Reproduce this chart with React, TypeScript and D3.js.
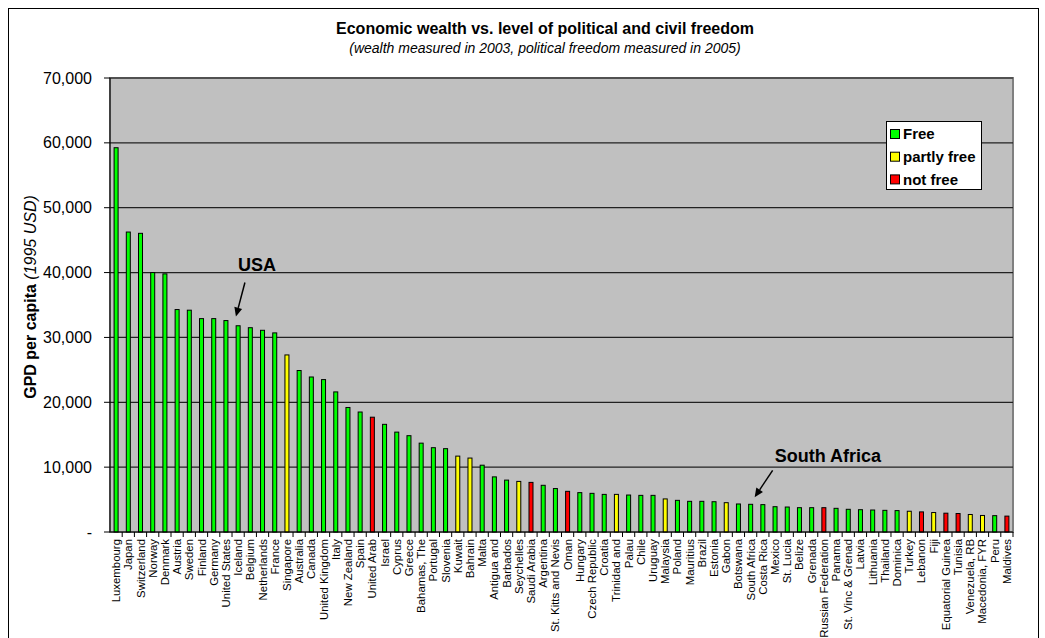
import React from 'react';
import * as d3 from 'd3';

const categories = [
  'Luxembourg', 'Japan', 'Switzerland', 'Norway', 'Denmark', 'Austria', 'Sweden', 'Finland', 'Germany', 'United States',
  'Iceland', 'Belgium', 'Netherlands', 'France', 'Singapore', 'Australia', 'Canada', 'United Kingdom', 'Italy', 'New Zealand',
  'Spain', 'United Arab', 'Israel', 'Cyprus', 'Greece', 'Bahamas, The', 'Portugal', 'Slovenia', 'Kuwait', 'Bahrain',
  'Malta', 'Antigua and', 'Barbados', 'Seychelles', 'Saudi Arabia', 'Argentina', 'St. Kitts and Nevis', 'Oman', 'Hungary', 'Czech Republic',
  'Croatia', 'Trinidad and', 'Palau', 'Chile', 'Uruguay', 'Malaysia', 'Poland', 'Mauritius', 'Brazil', 'Estonia',
  'Gabon', 'Botswana', 'South Africa', 'Costa Rica', 'Mexico', 'St. Lucia', 'Belize', 'Grenada', 'Russian Federation', 'Panama',
  'St. Vinc & Grenad', 'Latvia', 'Lithuania', 'Thailand', 'Dominica', 'Turkey', 'Lebanon', 'Fiji', 'Equatorial Guinea', 'Tunisia',
  'Venezuela, RB', 'Macedonia, FYR', 'Peru', 'Maldives',
];

const gdpPerCapita = [
  59250, 46250, 46050, 40000, 39800, 34300, 34200, 32900, 32900, 32600,
  31800, 31500, 31100, 30700, 27300, 24900, 23900, 23500, 21600, 19200,
  18500, 17700, 16600, 15400, 14850, 13700, 13000, 12850, 11700, 11400,
  10300, 8500, 8000, 7800, 7650, 7200, 6700, 6270, 6070, 5960,
  5800, 5800, 5700, 5650, 5650, 5100, 4880, 4730, 4730, 4670,
  4520, 4320, 4270, 4220, 3900, 3850, 3750, 3750, 3750, 3650,
  3500, 3440, 3390, 3340, 3300, 3200, 3100, 3000, 2900, 2850,
  2700, 2550, 2520, 2450,
];

// F = Free, P = partly free, N = not free
const freedomStatus = [
  'F', 'F', 'F', 'F', 'F', 'F', 'F', 'F', 'F', 'F',
  'F', 'F', 'F', 'F', 'P', 'F', 'F', 'F', 'F', 'F',
  'F', 'N', 'F', 'F', 'F', 'F', 'F', 'F', 'P', 'P',
  'F', 'F', 'F', 'P', 'N', 'F', 'F', 'N', 'F', 'F',
  'F', 'P', 'F', 'F', 'F', 'P', 'F', 'F', 'F', 'F',
  'P', 'F', 'F', 'F', 'F', 'F', 'F', 'F', 'N', 'F',
  'F', 'F', 'F', 'F', 'F', 'P', 'N', 'P', 'N', 'N',
  'P', 'P', 'F', 'N',
];

const yTicks = [0, 10000, 20000, 30000, 40000, 50000, 60000, 70000];

const legendKeys = ['F', 'P', 'N'];
const legendLabels = ['Free', 'partly free', 'not free'];
const statusColors: Record<string, string> = { F: '#00FF00', P: '#FFFF00', N: '#FF0000' };

const FONT = '"Liberation Sans", Arial, Helvetica, sans-serif';

function Arrow({ x1, y1, x2, y2 }: { x1: number; y1: number; x2: number; y2: number }) {
  const ang = Math.atan2(y2 - y1, x2 - x1);
  const len = 9;
  const w = 4;
  const bx = x2 - len * Math.cos(ang);
  const by = y2 - len * Math.sin(ang);
  const px = -Math.sin(ang) * w;
  const py = Math.cos(ang) * w;
  return (
    <g>
      <line x1={x1} y1={y1} x2={bx} y2={by} stroke="#000" strokeWidth={1.5} />
      <path d={`M${x2},${y2}L${bx + px},${by + py}L${bx - px},${by - py}Z`} fill="#000" />
    </g>
  );
}

export default function App() {
  const W = 1045;
  const H = 638;
  const left = 110;
  const right = 1013;
  const top = 78;
  const bottom = 532;

  const x = d3.scaleBand<string>().domain(categories).range([left, right]).paddingInner(0).paddingOuter(0);
  const y = d3.scaleLinear().domain([0, 70000]).range([bottom, top]);
  const fmt = (v: number) => (v === 0 ? '-' : d3.format(',')(v));
  const barW = 4;
  const bw = x.bandwidth();

  const usaIdx = categories.indexOf('United States');
  const saIdx = categories.indexOf('South Africa');
  const usaX = (x(categories[usaIdx]) as number) + bw / 2;
  const usaY = y(gdpPerCapita[usaIdx]);
  const saX = (x(categories[saIdx]) as number) + bw / 2;
  const saY = y(gdpPerCapita[saIdx]);

  return (
    <svg width={W} height={H} style={{ position: 'absolute', left: 0, top: 0, fontFamily: FONT }}>
      <rect x={0} y={0} width={W} height={H} fill="#fff" />
      <rect x={8.5} y={8.5} width={1030} height={700} fill="#fff" stroke="#000" strokeWidth={1} />

      {/* titles */}
      <text x={545} y={34} textAnchor="middle" fontSize={16} fontWeight="bold">
        Economic wealth vs. level of political and civil freedom
      </text>
      <text x={545} y={53} textAnchor="middle" fontSize={14} fontStyle="italic">
        (wealth measured in 2003, political freedom measured in 2005)
      </text>

      {/* plot area */}
      <rect x={left} y={top} width={right - left} height={bottom - top} fill="#C0C0C0" stroke="#808080" strokeWidth={2} />
      {yTicks.filter((t) => t > 0).map((t) => (
        <line key={t} x1={left} x2={right} y1={y(t)} y2={y(t)} stroke="#222" strokeWidth={1.2} />
      ))}

      {/* bars */}
      {categories.map((c, i) => {
        const cx = (x(c) as number) + bw / 2;
        return (
          <rect
            key={c}
            x={cx - barW / 2}
            y={y(gdpPerCapita[i])}
            width={barW}
            height={bottom - y(gdpPerCapita[i])}
            fill={statusColors[freedomStatus[i]]}
            stroke="#000"
            strokeWidth={1}
          />
        );
      })}

      {/* y axis */}
      <line x1={left} x2={left} y1={top} y2={bottom} stroke="#000" strokeWidth={1} />
      {yTicks.map((t) => (
        <g key={t}>
          <line x1={left - 6} x2={left} y1={y(t)} y2={y(t)} stroke="#000" />
          <text x={92} y={y(t)} dy="0.35em" textAnchor="end" fontSize={16}>
            {fmt(t)}
          </text>
        </g>
      ))}
      <text transform={`translate(36,297) rotate(-90)`} textAnchor="middle" fontSize={16}>
        <tspan fontWeight="bold">GPD per capita</tspan>
        <tspan fontStyle="italic"> (1995 USD)</tspan>
      </text>

      {/* x axis */}
      <line x1={left} x2={right} y1={bottom} y2={bottom} stroke="#000" strokeWidth={1} />
      {categories.map((c) => (
        <line key={'t' + c} x1={(x(c) as number) + bw} x2={(x(c) as number) + bw} y1={bottom} y2={bottom + 5} stroke="#000" />
      ))}
      {categories.map((c) => (
        <text
          key={'l' + c}
          transform={`translate(${(x(c) as number) + bw / 2},${bottom + 7}) rotate(-90)`}
          textAnchor="end"
          dy="0.35em"
          fontSize={11.4}
        >
          {c}
        </text>
      ))}

      {/* annotations */}
      <text x={usaX + 12} y={usaY - 50} fontSize={18} fontWeight="bold">USA</text>
      <Arrow x1={usaX + 19} y1={usaY - 38} x2={usaX + 10} y2={usaY - 4} />
      <text x={saX + 24} y={saY - 42} fontSize={18} fontWeight="bold">South Africa</text>
      <Arrow x1={saX + 22} y1={saY - 34} x2={saX + 4} y2={saY - 7} />

      {/* legend */}
      <rect x={886.5} y={121.5} width={95} height={68} fill="#fff" stroke="#000" strokeWidth={1} />
      {legendKeys.map((k, i) => (
        <g key={k}>
          <rect x={890.5} y={129.5 + i * 22.7} width={9} height={9} fill={statusColors[k]} stroke="#000" />
          <text x={903} y={134 + i * 22.7} dy="0.35em" fontSize={15} fontWeight="bold">
            {legendLabels[i]}
          </text>
        </g>
      ))}
    </svg>
  );
}
